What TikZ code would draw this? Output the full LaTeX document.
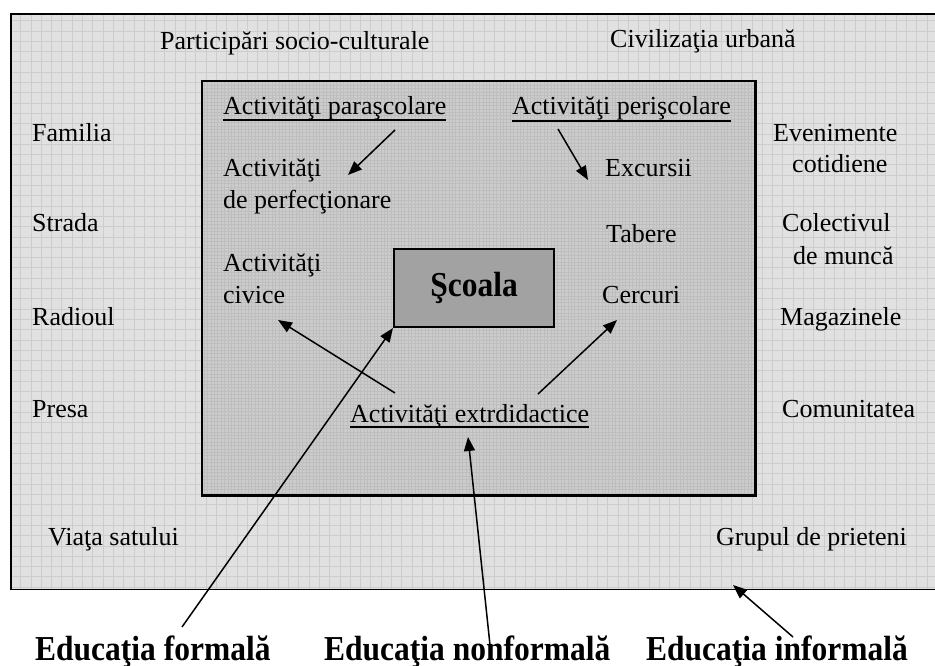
\documentclass[tikz,border=0pt]{standalone}
\usepackage{fontspec}
\setmainfont{Liberation Serif}
\newfontfamily\edufont[FakeStretch=0.9]{Liberation Serif}
\usetikzlibrary{arrows.meta}
\definecolor{outerfill}{RGB}{225,225,225}
\definecolor{gridc}{RGB}{205,205,205}
\definecolor{innerfill}{RGB}{204,204,204}
\definecolor{innergrid}{RGB}{190,190,190}
\definecolor{schoolfill}{RGB}{162,162,162}
\tikzset{
  lbl/.style={font=\fontsize{26}{30}\selectfont, inner sep=0pt, anchor=base west},
  edu/.style={font=\edufont\bfseries\fontsize{35}{40}\selectfont, inner sep=0pt, anchor=base west},
  arr/.style={line width=1.5pt, -{Triangle[length=14pt,width=11pt]}},
  uline/.style={line width=1.8pt},
  field/.style={inner sep=0pt, anchor=north west}
}
\begin{document}
\begin{tikzpicture}[x=1pt,y=-1pt]
\useasboundingbox (0,0) rectangle (935,666);
\clip (0,0) rectangle (935,666);
\fill[white] (0,0) rectangle (935,666);

% outer field (informal education), runs past the right edge
\node[field, fill=outerfill, minimum width=940pt, minimum height=575pt] (outer) at (11,14) {};
\begin{scope}
  \clip (outer.north west) rectangle (outer.south east);
  \draw[gridc, line width=0.7pt, step=10.3pt] (outer.north west) grid (outer.south east);
\end{scope}
\draw[line width=1.6pt] (outer.north east) -- (outer.north west) -- (outer.south west) -- (outer.south east);

% inner field (school activities) with a fine texture
\node[field, fill=innerfill, minimum width=553pt, minimum height=414pt] (inner) at (202,81) {};
\begin{scope}
  \clip (inner.north west) rectangle (inner.south east);
  \draw[innergrid, line width=0.35pt, step=3.4pt] (inner.north west) grid (inner.south east);
\end{scope}
\draw[line width=2.4pt] (inner.north west) rectangle (inner.south east);

% school box
\node[draw, line width=2pt, fill=schoolfill, minimum width=160pt, minimum height=78pt,
      font=\edufont\bfseries\fontsize{35}{40}\selectfont] (scoala) at (474,288) {Şcoala};

% labels in the outer field
\node[lbl] (part) at (160,50) {Participări socio-culturale};
\node[lbl] (civ)  at (610,48) {Civilizaţia urbană};
\node[lbl] (fam)  at (32,142) {Familia};
\node[lbl] (str)  at (32,232) {Strada};
\node[lbl] (rad)  at (32,325) {Radioul};
\node[lbl] (pre)  at (32,417) {Presa};
\node[lbl] (sat)  at (48,545) {Viaţa satului};
\node[lbl] (ev1)  at (773,142) {Evenimente};
\node[lbl] (ev2)  at (792,172) {cotidiene};
\node[lbl] (col1) at (782,232) {Colectivul};
\node[lbl] (col2) at (793,264) {de muncă};
\node[lbl] (mag)  at (780,325) {Magazinele};
\node[lbl] (com)  at (782,417) {Comunitatea};
\node[lbl] (grp)  at (716,545) {Grupul de prieteni};

% labels in the inner field
\node[lbl] (para)  at (223,115) {Activităţi paraşcolare};
\node[lbl, anchor=base east] (peri) at (731,115) {Activităţi perişcolare};
\node[lbl] (perf1) at (223,177) {Activităţi};
\node[lbl] (perf2) at (223,208) {de perfecţionare};
\node[lbl] (exc)   at (605,177) {Excursii};
\node[lbl] (tab)   at (606,242) {Tabere};
\node[lbl] (civ1)  at (223,271) {Activităţi};
\node[lbl] (civ2)  at (223,303) {civice};
\node[lbl] (cer)   at (602,303) {Cercuri};
\node[lbl] (extr)  at (350,422) {Activităţi extrdidactice};

% underlines
\draw[uline] ([yshift=-5pt]para.base west) -- ([yshift=-5pt]para.base east);
\draw[uline] ([yshift=-6pt]peri.base west) -- ([yshift=-6pt]peri.base east);
\draw[uline] ([yshift=-5pt]extr.base west) -- ([yshift=-5pt]extr.base east);

% bottom captions
\node[edu] (formal)    at (35,660)  {Educaţia formală};
\node[edu] (nonformal) at (324,660) {Educaţia nonformală};
\node[edu] (informal)  at (646,660) {Educaţia informală};

% arrow ends
\coordinate (paraT) at (395,130);  \coordinate (paraH) at (348,175);
\coordinate (periT) at (558,129);  \coordinate (periH) at (588,180);
\coordinate (civT)  at (395,393);  \coordinate (civH)  at (278,320);
\coordinate (cerT)  at (538,394);  \coordinate (cerH)  at (617,320);
\coordinate (forT)  at (182,627);
\coordinate (nonT)  at (490,645);  \coordinate (nonH)  at (468,437);
\coordinate (infT)  at (793,637);  \coordinate (infH)  at (733,585);

\draw[arr] (paraT) -- (paraH);
\draw[arr] (periT) -- (periH);
\draw[arr] (civT) -- (civH);
\draw[arr] (cerT) -- (cerH);
\draw[arr] (forT) -- (scoala.south west);
\draw[arr] (nonT) -- (nonH);
\draw[arr] (infT) -- (infH);
\end{tikzpicture}
\end{document}
